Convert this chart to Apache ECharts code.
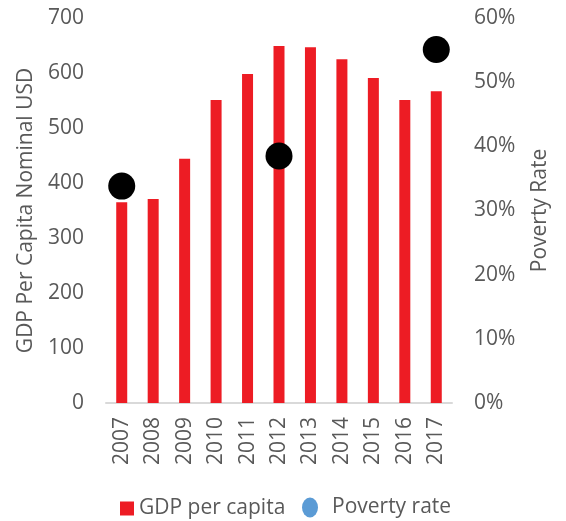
<!DOCTYPE html>
<html>
<head>
<meta charset="utf-8">
<script src="https://cdn.jsdelivr.net/npm/echarts@6/dist/echarts.min.js"></script>
<style>
  html, body { margin: 0; padding: 0; background: #fff; }
  #main { width: 566px; height: 521px; }
</style>
</head>
<body>
<div id="main"></div>
<script>
// data
var years = ['2007', '2008', '2009', '2010', '2011', '2012', '2013', '2014', '2015', '2016', '2017'];
var gdpPerCapita = [365, 371, 444, 551, 598, 649, 647, 625, 591, 551, 567];
var povertyRate = [33.8, null, null, null, null, 38.5, null, null, null, null, 55.1];
var gdpTicks = [0, 100, 200, 300, 400, 500, 600, 700];
var rateTicks = [0, 10, 20, 30, 40, 50, 60];

var textColor = '#595959';
var font = 'Open Sans';
var fs = 21;

var chart = echarts.init(document.getElementById('main'));

var option = {
  animation: false,
  textStyle: { fontFamily: font },
  grid: { left: 106, right: 114, top: 18, bottom: 118 },
  // two legends so each marker gets its own size (square + upright ellipse)
  legend: [
    {
      left: 120,
      top: 498,
      itemWidth: 14,
      itemHeight: 14,
      padding: 0,
      textStyle: { color: textColor, fontSize: fs, fontFamily: font },
      data: [{ name: 'GDP per capita', icon: 'rect', itemStyle: { color: '#ed1c24' } }]
    },
    {
      left: 302,
      top: 497,
      itemWidth: 16,
      itemHeight: 20,
      padding: 0,
      symbolKeepAspect: false,
      textStyle: { color: textColor, fontSize: fs, fontFamily: font, padding: [0, 0, 0, 9] },
      data: [{
        name: 'Poverty rate',
        icon: 'path://M0,10A8,10,0,1,0,16,10A8,10,0,1,0,0,10Z',
        itemStyle: { color: '#5b9bd5' }
      }]
    }
  ],
  xAxis: {
    type: 'category',
    data: years,
    axisLine: { lineStyle: { color: '#d9d9d9', width: 2 } },
    axisTick: { show: false },
    axisLabel: { rotate: 90, color: textColor, fontSize: fs, margin: 14 }
  },
  yAxis: [
    {
      type: 'value',
      min: gdpTicks[0],
      max: gdpTicks[gdpTicks.length - 1],
      interval: 100,
      name: 'GDP Per Capita Nominal USD',
      nameLocation: 'middle',
      nameGap: 69,
      nameTextStyle: { color: textColor, fontSize: fs, fontFamily: font },
      splitLine: { show: false },
      axisLine: { show: false },
      axisTick: { show: false },
      axisLabel: { color: textColor, fontSize: fs, margin: 22 }
    },
    {
      type: 'value',
      min: rateTicks[0],
      max: rateTicks[rateTicks.length - 1],
      interval: 10,
      name: 'Poverty Rate',
      nameLocation: 'middle',
      nameGap: 78,
      nameRotate: 90,
      nameTextStyle: { color: textColor, fontSize: fs, fontFamily: font },
      splitLine: { show: false },
      axisLine: { show: false },
      axisTick: { show: false },
      axisLabel: { color: textColor, fontSize: fs, margin: 22, formatter: '{value}%' }
    }
  ],
  series: [
    {
      name: 'GDP per capita',
      type: 'bar',
      data: gdpPerCapita,
      barWidth: 11,
      itemStyle: { color: '#ed1c24' }
    },
    {
      name: 'Poverty rate',
      type: 'scatter',
      yAxisIndex: 1,
      data: povertyRate,
      symbolSize: 27,
      itemStyle: { color: '#000000', opacity: 1 }
    }
  ]
};

chart.setOption(option);
</script>
</body>
</html>
